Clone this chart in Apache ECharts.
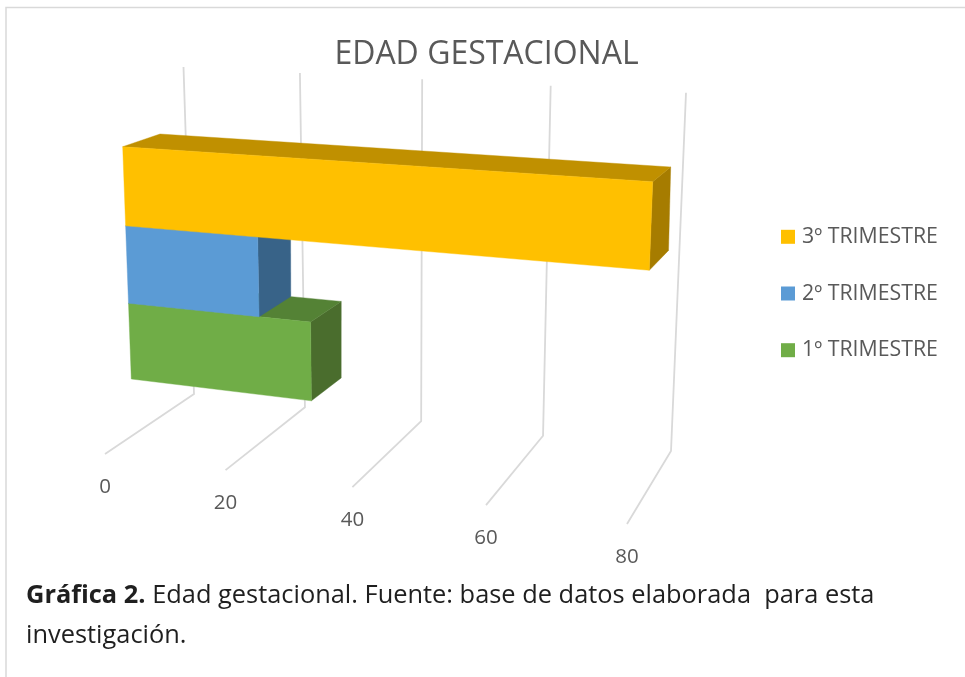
<!DOCTYPE html>
<html>
<head>
<meta charset="utf-8">
<style>html,body{margin:0;padding:0;background:#fff}#c{width:965px;height:677px}</style>
<script src="https://cdn.jsdelivr.net/npm/echarts@6/dist/echarts.min.js"></script>
</head>
<body>
<div id="c"></div>
<script>
// ---- data ----
var titleText = 'EDAD GESTACIONAL';
var categories = ['1º TRIMESTRE', '2º TRIMESTRE', '3º TRIMESTRE'];
var values = [30.3, 22, 80];
var tickLabels = [0, 20, 40, 60, 80];
var frontColors = ['#70AD47', '#5B9BD5', '#FFC000'];
var topColors = ['#548235', '#44749F', '#C09000'];
var sideColors = ['#4A6D2D', '#386388', '#A67C00'];

// ---- layout: the planes of the pictured 3-D box (BL, BR, TR, TL) ----
var G = {left: 100, top: 100, width: 500, height: 300};
var WALL  = [[194, 394], [671, 451], [686, 92.7], [183.5, 67]];
var FLOOR = [[105, 454], [627, 524], [627, 191], [105, 154]];
var BAR_F = [[131.3, 379], [642.8, 441], [652.7, 181.7], [122.7, 146.7]];
var BAR_B = [[163, 358], [664.3, 414], [670.7, 167], [160, 134]];

function quadMap(q) {
  var x0 = q[0][0], y0 = q[0][1], x1 = q[1][0], y1 = q[1][1],
      x2 = q[2][0], y2 = q[2][1], x3 = q[3][0], y3 = q[3][1];
  var dx1 = x1 - x2, dx2 = x3 - x2, sx = x0 - x1 + x2 - x3,
      dy1 = y1 - y2, dy2 = y3 - y2, sy = y0 - y1 + y2 - y3;
  var den = dx1 * dy2 - dx2 * dy1;
  var g = (sx * dy2 - dx2 * sy) / den, h = (dx1 * sy - sx * dy1) / den;
  var a = x1 - x0 + g * x1, b = x3 - x0 + h * x3,
      d = y1 - y0 + g * y1, e = y3 - y0 + h * y3;
  // p is a pixel of the (hidden) cartesian grid, mapped through the plane
  return function (p) {
    var u = (p[0] - G.left) / G.width, v = 1 - (p[1] - G.top) / G.height;
    var w = g * u + h * v + 1;
    return [(a * u + b * v + x0) / w, (d * u + e * v + y0) / w];
  };
}
var wall = quadMap(WALL), floorFront = quadMap(FLOOR),
    barFront = quadMap(BAR_F), barBack = quadMap(BAR_B);

function renderGrid(params, api) {
  var t = api.value(0);
  var x = api.coord([t, 0])[0];
  var top = wall([x, G.top]), bot = wall([x, G.top + G.height]), fr = floorFront([x, G.top + G.height]);
  return {type: 'group', children: [
    {type: 'polyline', shape: {points: [top, bot, fr]},
      style: {stroke: '#D9D9D9', lineWidth: 1.8, fill: null}},
    {type: 'text', style: {text: String(t), x: fr[0], y: fr[1] + 33, align: 'center', verticalAlign: 'middle',
      fill: '#595959', font: '20.5px "Open Sans"'}}
  ]};
}

function renderBar(params, api) {
  var i = api.value(1);
  var c = api.coord([api.value(0), i]);
  var o = api.coord([0, i]);
  var band = api.size([0, 1])[1];
  var yT = c[1] - band / 2, yB = c[1] + band / 2;
  var fl = [o[0], yB], fr = [c[0], yB], tr = [c[0], yT], tl = [o[0], yT];
  function poly(pts, color) {
    return {type: 'polygon', shape: {points: pts}, style: {fill: color, stroke: color, lineWidth: 0.4}};
  }
  return {type: 'group', children: [
    poly([barFront(tr), barBack(tr), barBack(fr), barFront(fr)], sideColors[i]),
    poly([barFront(tl), barBack(tl), barBack(tr), barFront(tr)], topColors[i]),
    poly([barFront(fl), barFront(fr), barFront(tr), barFront(tl)], frontColors[i])
  ]};
}

var series = [{
  type: 'custom', name: 'grid', coordinateSystem: 'cartesian2d', silent: true,
  data: tickLabels.map(function (t) { return [t]; }),
  encode: {x: 0}, renderItem: renderGrid, clip: false
}];
categories.forEach(function (name, i) {
  series.push({
    type: 'custom', name: name, coordinateSystem: 'cartesian2d', silent: true,
    itemStyle: {color: frontColors[i]},
    data: [[values[i], i]], encode: {x: 0, y: 1}, renderItem: renderBar, clip: false
  });
});

var chart = echarts.init(document.getElementById('c'), null, {renderer: 'canvas'});
chart.setOption({
  animation: false,
  backgroundColor: '#fff',
  title: {text: titleText, left: 486.5, top: 39, textAlign: 'center', padding: 0,
    textStyle: {fontFamily: 'Open Sans', fontWeight: 'normal', fontSize: 32, color: '#595959'}},
  legend: {
    data: categories.slice().reverse(), orient: 'vertical', left: 781, top: 226.3,
    itemWidth: 14, itemHeight: 14, itemGap: 35.7, icon: 'rect', selectedMode: false,
    textStyle: {fontFamily: 'Open Sans', fontSize: 21.3, color: '#595959', padding: [0, 0, 0, 2]}, padding: 0
  },
  grid: G,
  xAxis: {type: 'value', min: 0, max: 80, interval: 20, show: false},
  yAxis: {type: 'category', data: categories, show: false},
  graphic: [
    {type: 'polyline', silent: true, shape: {points: [[6, 677], [6, 7.5], [965, 7.5]]},
      style: {stroke: '#D9D9D9', lineWidth: 1.5, fill: null}},
    {type: 'text', left: 26, top: 576, silent: true, style: {
      text: '{b|Gráfica 2.} Edad gestacional. Fuente: base de datos elaborada  para esta\ninvestigación.',
      font: '25.4px "Open Sans"', fill: '#1F1F1F', lineHeight: 40,
      rich: {b: {fontWeight: 'bold', fontFamily: 'Open Sans', fontSize: 25.4, fill: '#1F1F1F', lineHeight: 40}}
    }}
  ],
  series: series
});
</script>
</body>
</html>
